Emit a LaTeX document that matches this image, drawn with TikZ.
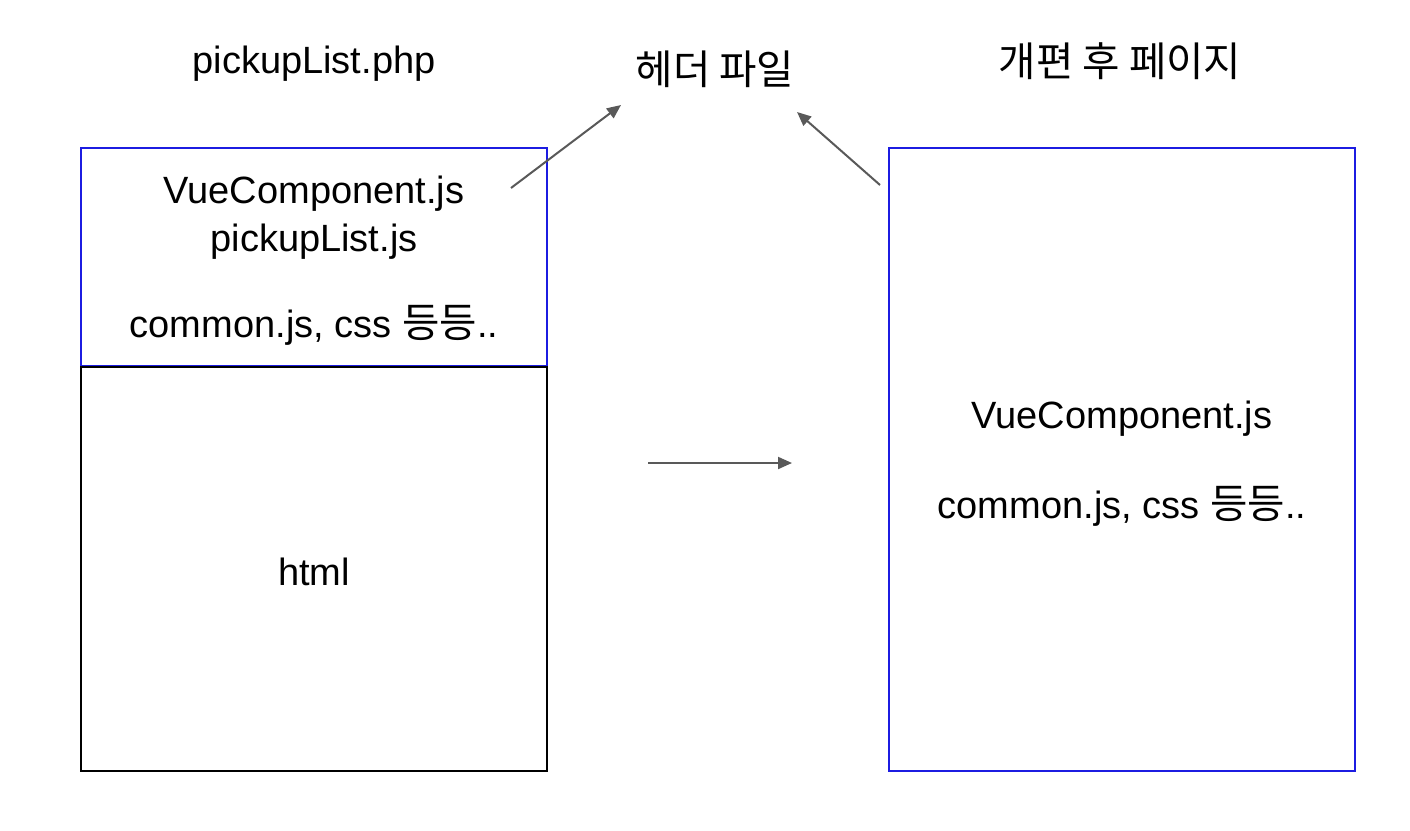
\documentclass[tikz,border=0pt]{standalone}
\usepackage{fontspec}
\setmainfont{Liberation Sans}
\newfontfamily\kr[Scale=1.07]{Noto Sans CJK KR}
\usetikzlibrary{arrows.meta}
\definecolor{boxblue}{RGB}{28,28,225}
\definecolor{arrowgray}{RGB}{89,89,89}
\tikzset{
  bluebox/.style={draw=boxblue, line width=2pt, inner sep=0pt},
  blackbox/.style={draw=black, line width=2pt, inner sep=0pt},
  lbl/.style={anchor=base, inner sep=0pt, font=\fontsize{38}{45}\selectfont},
  conn/.style={draw=arrowgray, line width=2pt, -{Triangle[length=14pt,width=12pt]}}
}
\begin{document}
\begin{tikzpicture}[x=1pt,y=-1pt]
\useasboundingbox (0,0) rectangle (1410,830);
% boxes
\node[blackbox, minimum width=466, minimum height=405] (body) at (314,568.5) {};
\node[bluebox, minimum width=466, minimum height=218] (head) at (314,257) {};
\draw[black, line width=2pt] (head.south west) -- (head.south east);
\node[bluebox, minimum width=466, minimum height=623] (newpage) at (1122,459.5) {};
% titles
\node[lbl] (t1) at (314,73) {pickupList.php};
\node[lbl] (t2) at (715,84) {\kr 헤더 파일};
\node[lbl] (t3) at (1120,76) {\kr 개편 후 페이지};
% left box texts
\node[lbl] (l1) at (314,203) {VueComponent.js};
\node[lbl] (l2) at (314,251) {pickupList.js};
\node[lbl] (l3) at (314,337) {common.js, css {\kr 등등}..};
\node[lbl] (l4) at (314,585) {html};
% right box texts
\node[lbl] (r1) at (1122,428) {VueComponent.js};
\node[lbl] (r2) at (1122,518) {common.js, css {\kr 등등}..};
% connector ends
\coordinate (a1s) at (511,188);
\coordinate (a1e) at (621,105);
\coordinate (a2s) at (880,185);
\coordinate (a2e) at (797,112);
\coordinate (a3s) at (648,463);
\coordinate (a3e) at (792,463);
\draw[conn] (a1s) -- (a1e);
\draw[conn] (a2s) -- (a2e);
\draw[conn] (a3s) -- (a3e);
\end{tikzpicture}
\end{document}
